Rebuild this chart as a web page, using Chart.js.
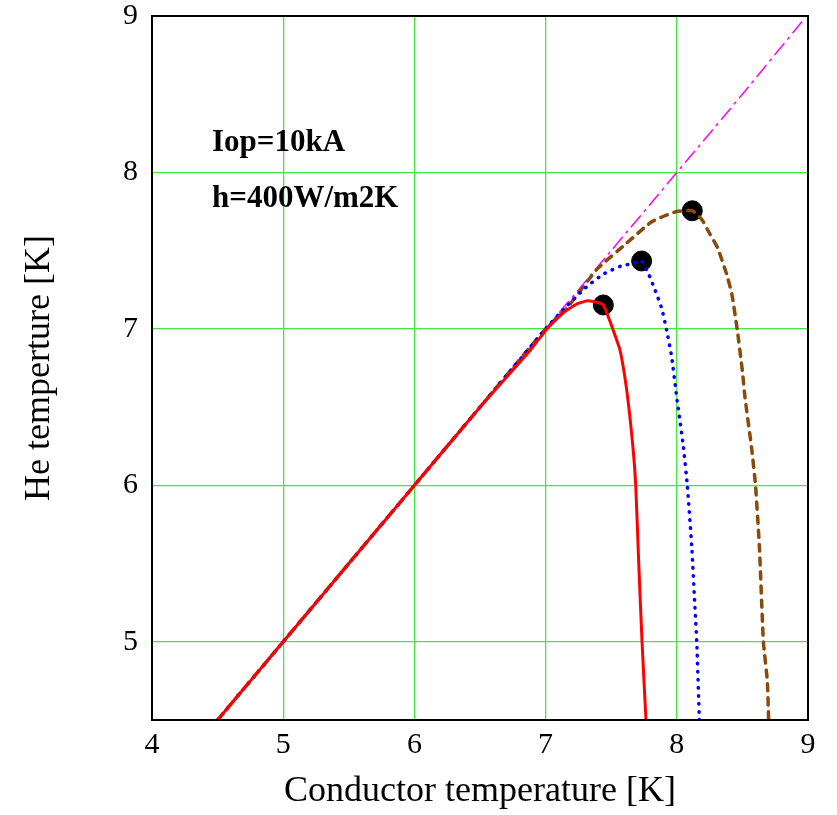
<!DOCTYPE html>
<html lang="en">
<head>
    <meta charset="UTF-8">
    <title>He temperature vs conductor temperature</title>
    <script src="https://cdn.jsdelivr.net/npm/chart.js"></script>
    <style>
        body, html {
            margin: 0;
            padding: 0;
            background: #fff;
        }
        #wrap {
            width: 837px;
            height: 815px;
        }
    </style>
</head>
<body>
    <div id="wrap"><canvas id="chart" width="837" height="815"></canvas></div>

    <script>
        // Data (conductor temperature x, He temperature y)
        const redX   = [4.5, 5.0, 5.5, 6.0, 6.5, 6.88, 7.01, 7.13, 7.24, 7.32, 7.39, 7.44, 7.49, 7.516, 7.567, 7.618, 7.665, 7.687, 7.71, 7.735, 7.765];
        const redY   = [4.5, 5.0, 5.5, 6.0, 6.5, 6.86, 7.0, 7.10, 7.16, 7.18, 7.17, 7.153, 7.05, 6.99, 6.865, 6.61, 6.25, 6.0, 5.5, 5.0, 4.5];
        const blueX  = [4.5, 5.0, 5.5, 6.0, 6.5, 7.0, 7.13, 7.30, 7.44, 7.57, 7.67, 7.732, 7.783, 7.834, 7.885, 7.923, 7.961, 7.999, 8.05, 8.08, 8.114, 8.134, 8.152, 8.172];
        const blueY  = [4.5, 5.0, 5.5, 6.0, 6.5, 7.0, 7.12, 7.26, 7.35, 7.40, 7.42, 7.434, 7.355, 7.249, 7.131, 6.99, 6.82, 6.567, 6.247, 6.0, 5.608, 5.288, 5.0, 4.5];
        const brownX = [4.5, 5.0, 5.5, 6.0, 6.5, 7.0, 7.16, 7.39, 7.62, 7.80, 7.90, 8.0, 8.118, 8.19, 8.25, 8.31, 8.38, 8.42, 8.46, 8.50, 8.52, 8.57, 8.60, 8.63, 8.66, 8.69, 8.70];
        const brownY = [4.5, 5.0, 5.5, 6.0, 6.5, 7.0, 7.13, 7.38, 7.55, 7.68, 7.72, 7.75, 7.755, 7.70, 7.61, 7.52, 7.35, 7.22, 7.0, 6.73, 6.56, 6.24, 6.0, 5.6, 5.0, 4.75, 4.5];
        const diagX  = [4.5, 5.5, 6.5, 7.5, 8.5, 8.96];
        const diagY  = [4.5, 5.5, 6.5, 7.5, 8.5, 8.97];
        const peakX  = [7.44, 7.732, 8.118];
        const peakY  = [7.153, 7.434, 7.755];

        const xTicks = [4, 5, 6, 7, 8, 9];
        const yTicks = [5, 6, 7, 8, 9];
        const notes  = ['Iop=10kA', 'h=400W/m2K'];

        const pts = (xs, ys) => xs.map((x, i) => ({ x: x, y: ys[i] }));

        const serif = '"Liberation Serif", "DejaVu Serif", serif';
        const gridGreen = '#40ea40';

        // frame on all four sides + the two text notes
        const framePlugin = {
            id: 'frame',
            afterDatasetsDraw(chart) {
                const { ctx, chartArea: a } = chart;
                ctx.save();
                ctx.strokeStyle = '#000';
                ctx.lineWidth = 2;
                ctx.strokeRect(a.left, a.top, a.right - a.left, a.bottom - a.top);
                ctx.fillStyle = '#000';
                ctx.font = 'bold 31px ' + serif;
                ctx.textBaseline = 'alphabetic';
                ctx.fillText(notes[0], a.left + 60, a.top + 135);
                ctx.fillText(notes[1], a.left + 60, a.top + 191);
                ctx.restore();
            }
        };

        const lineDs = (label, data, color, width, dash) => ({
            label: label,
            data: data,
            showLine: true,
            borderColor: color,
            backgroundColor: color,
            borderWidth: width,
            borderDash: dash,
            borderCapStyle: 'round',
            pointRadius: 0,
            tension: 0.15,
            fill: false
        });

        new Chart(document.getElementById('chart'), {
            type: 'scatter',
            data: {
                datasets: [
                    lineDs('red', pts(redX, redY), '#ff0000', 3, []),
                    lineDs('blue', pts(blueX, blueY), '#0000ff', 3.5, [0.5, 7.5]),
                    lineDs('brown', pts(brownX, brownY), '#8a4a0a', 3.5, [7, 7]),
                    lineDs('diag', pts(diagX, diagY), '#ff00ff', 1.5, [14, 6, 2, 6]),
                    {
                        label: 'peak',
                        data: pts(peakX, peakY),
                        showLine: false,
                        pointRadius: 10,
                        pointBackgroundColor: '#000',
                        pointBorderColor: '#000'
                    }
                ]
            },
            options: {
                responsive: false,
                animation: false,
                events: [],
                layout: { padding: { left: 0, top: 16, right: 29, bottom: 0 } },
                plugins: {
                    legend: { display: false },
                    tooltip: { enabled: false }
                },
                scales: {
                    x: {
                        type: 'linear',
                        min: 4,
                        max: 9,
                        afterBuildTicks: s => { s.ticks = xTicks.map(v => ({ value: v })); },
                        afterFit: s => { s.height = 95; s.paddingLeft = 0; s.paddingRight = 0; },
                        border: { display: false },
                        grid: {
                            drawTicks: false,
                            lineWidth: 1.3,
                            color: c => (c.tick.value === 4 || c.tick.value === 9) ? 'rgba(0,0,0,0)' : gridGreen
                        },
                        ticks: {
                            color: '#000',
                            padding: 7,
                            font: { family: serif, size: 30 }
                        },
                        title: {
                            display: true,
                            text: 'Conductor temperature [K]',
                            color: '#000',
                            font: { family: serif, size: 36 },
                            padding: { top: 0, bottom: 2 }
                        }
                    },
                    y: {
                        type: 'linear',
                        min: 4.5,
                        max: 9,
                        afterBuildTicks: s => { s.ticks = yTicks.map(v => ({ value: v })); },
                        afterFit: s => { s.width = 152; s.paddingTop = 0; s.paddingBottom = 0; },
                        border: { display: false },
                        grid: {
                            drawTicks: false,
                            lineWidth: 1.3,
                            color: c => (c.tick.value === 9) ? 'rgba(0,0,0,0)' : gridGreen
                        },
                        ticks: {
                            color: '#000',
                            padding: 14,
                            font: { family: serif, size: 30 }
                        },
                        title: {
                            display: true,
                            text: 'He temperture [K]',
                            color: '#000',
                            font: { family: serif, size: 36 },
                            padding: { top: 18, bottom: 0 }
                        }
                    }
                }
            },
            plugins: [framePlugin]
        });
    </script>
</body>
</html>
